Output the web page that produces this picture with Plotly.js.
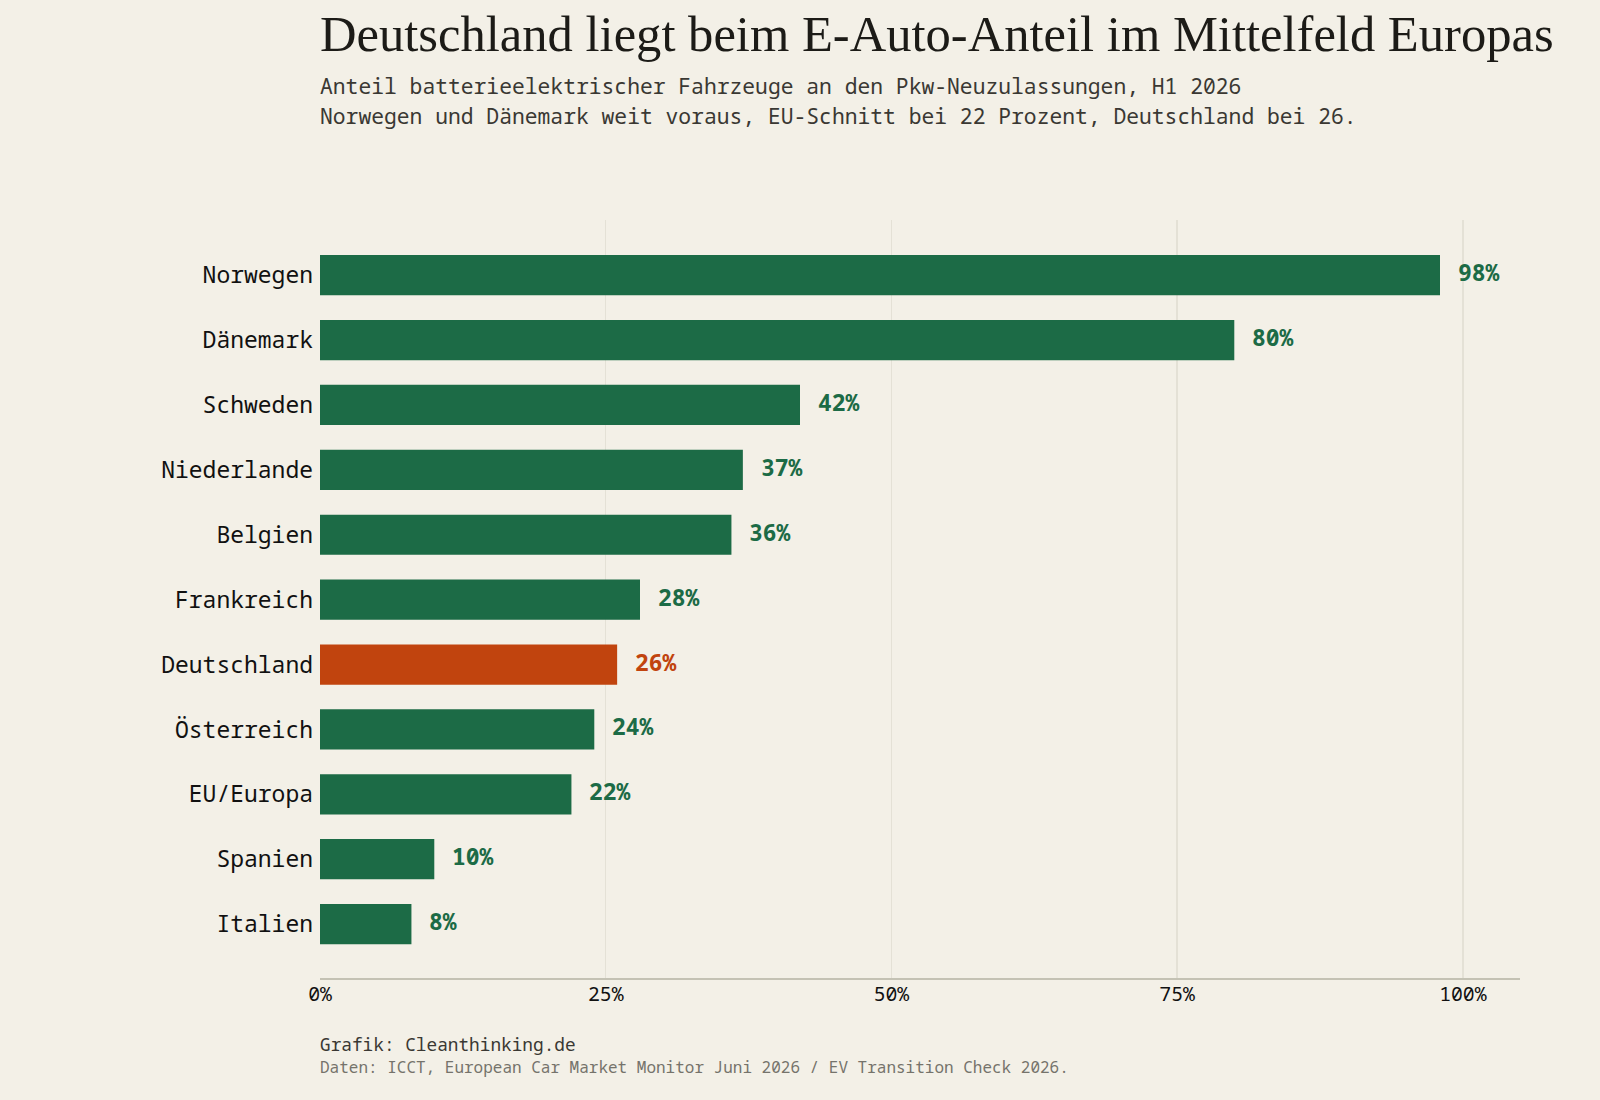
<!DOCTYPE html>
<html><head><meta charset="utf-8">
<script src="https://cdn.plot.ly/plotly-3.0.1.min.js"></script>
<style>html,body{margin:0;padding:0;background:#f3f0e7}</style></head>
<body><div id="chart" style="width:1600px;height:1100px"></div>
<script>
const countries = ["Norwegen","Dänemark","Schweden","Niederlande","Belgien","Frankreich","Deutschland","Österreich","EU/Europa","Spanien","Italien"];
const shares = [98,80,42,37,36,28,26,24,22,10,8];
const highlight = "Deutschland";
const xTicks = [0,25,50,75,100];
const xTickLabels = ["0%","25%","50%","75%","100%"];
const titleText = "Deutschland liegt beim E-Auto-Anteil im Mittelfeld Europas";
const subtitleLines = ["Anteil batterieelektrischer Fahrzeuge an den Pkw-Neuzulassungen, H1 2026","Norwegen und Dänemark weit voraus, EU-Schnitt bei 22 Prozent, Deutschland bei 26."];
const creditText = "Grafik: Cleanthinking.de";
const sourceText = "Daten: ICCT, European Car Market Monitor Juni 2026 / EV Transition Check 2026.";

const GREEN="#1c6b46", RED="#c1440e", BG="#f3f0e7";
const MONO="'Noto Sans Mono', 'DejaVu Sans Mono', monospace";
const colorOf = c => c===highlight ? RED : GREEN;

function textNote(text, yPx, size, color, family){
  return {text, xref:"paper", x:0, xanchor:"left", yref:"paper",
    y:(979-yPx)/759, yanchor:"middle", showarrow:false, borderpad:0, borderwidth:0,
    align:"left", xshift:0, font:{family:family||MONO,size,color}};
}
const notes = [
  textNote(titleText,34,50.6,"#1c1b17","'Liberation Serif', serif"),
  textNote(subtitleLines[0],85.5,21.33,"#3a3833"),
  textNote(subtitleLines[1],115.5,21.33,"#3a3833"),
  textNote(creditText,1045,17.75,"#3a3833"),
  textNote(sourceText,1068,16,"#75736b")
];
countries.forEach((c,i)=>notes.push({
  x:shares[i], y:c, xref:"x", yref:"y", text:"<b>"+shares[i]+"%</b>", showarrow:false,
  xanchor:"left", yanchor:"middle", xshift:16, yshift:3,
  font:{family:MONO,size:23,color:colorOf(c)}
}));

Plotly.newPlot("chart",[{
  type:"bar", orientation:"h", y:countries, x:shares,
  marker:{color:countries.map(colorOf),line:{width:0}},
  width:0.62, hoverinfo:"skip"
}],{
  width:1600,height:1100,
  paper_bgcolor:BG,plot_bgcolor:BG,showlegend:false,
  margin:{l:320,r:79.5,t:220,b:121.5,pad:0},
  font:{family:MONO,color:"#111"},
  xaxis:{range:[0,105],tickvals:xTicks,ticktext:xTickLabels,showgrid:true,gridcolor:"#e4e1d6",gridwidth:1.5,
    zeroline:false,showline:true,linecolor:"#c4c2b4",linewidth:2,ticks:"",tickfont:{family:MONO,size:19.8,color:"#111"},
    ticklabelstandoff:-3},
  yaxis:{type:"category",categoryorder:"array",categoryarray:countries,range:[10.83,-0.85],showgrid:false,zeroline:false,
    showline:false,ticks:"",tickfont:{family:MONO,size:23,color:"#111"},ticklabelstandoff:6},
  annotations:notes
},{displayModeBar:false,staticPlot:true});
</script></body></html>
